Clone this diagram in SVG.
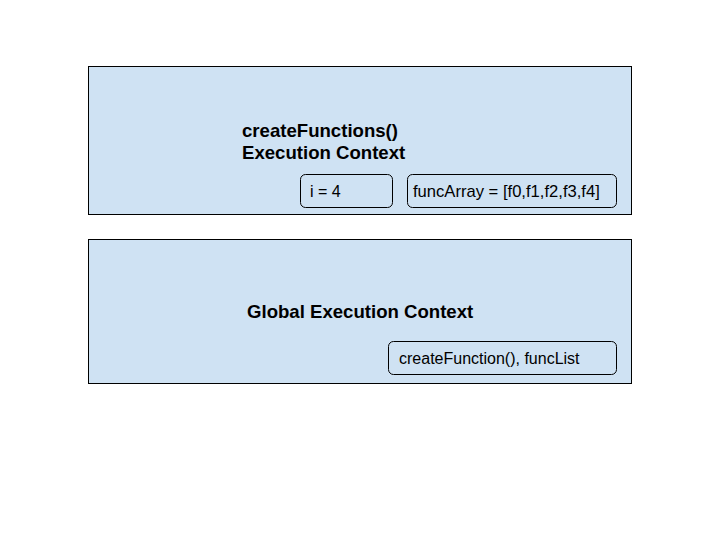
<svg xmlns="http://www.w3.org/2000/svg" width="720" height="540" viewBox="0 0 720 540">
<style>
.ctx{fill:#cfe2f3;stroke:#000;stroke-width:1}
.var{fill:none;stroke:#000;stroke-width:1}
.title{font-family:"Liberation Sans",Arial,sans-serif;font-weight:bold;font-size:18.6px;fill:#000}
.lbl{font-family:"Liberation Sans",Arial,sans-serif;font-size:16px;fill:#000}
</style>
<rect width="720" height="540" fill="#fff"/>
<g id="createFunctionsCtx">
<rect class="ctx" x="88.5" y="66.5" width="543" height="148"/>
<text class="title" x="242" y="137">createFunctions()</text>
<text class="title" x="242" y="159">Execution Context</text>
</g>
<g id="varI">
<rect class="var" x="300.5" y="174.5" width="92" height="33" rx="5"/>
<text class="lbl" x="310" y="197">i = 4</text>
</g>
<g id="varFuncArray">
<rect class="var" x="407.5" y="174.5" width="209" height="33" rx="5"/>
<text class="lbl" x="413" y="197" style="font-size:16.6px">funcArray = [f0,f1,f2,f3,f4]</text>
</g>
<g id="globalCtx">
<rect class="ctx" x="88.5" y="239.5" width="543" height="144"/>
<text class="title" x="247" y="318">Global Execution Context</text>
</g>
<g id="globalVars">
<rect class="var" x="388.5" y="341.5" width="228" height="33" rx="5"/>
<text class="lbl" x="399" y="364">createFunction(), funcList</text>
</g>
<g id="connectors"/>
</svg>
